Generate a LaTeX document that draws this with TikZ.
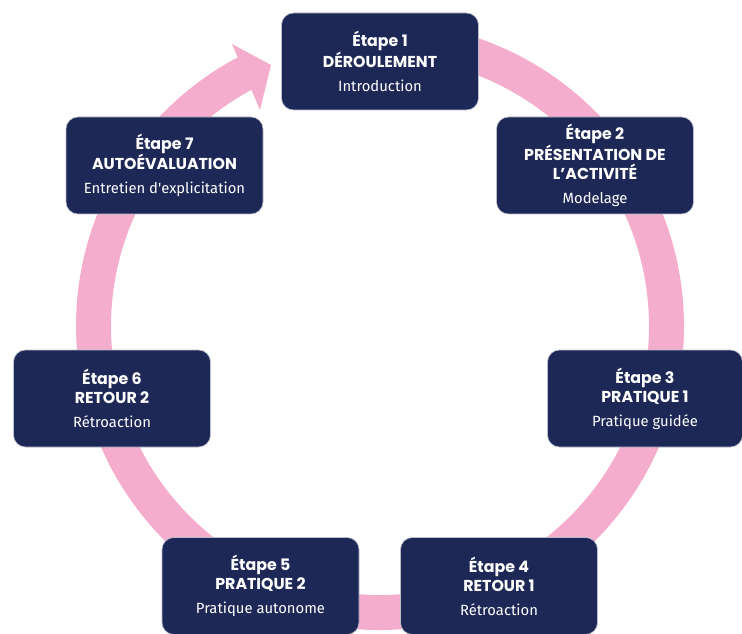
\documentclass[tikz,border=0pt]{standalone}
\usepackage{fontspec}
\setmainfont{Fira Sans}
\newfontfamily\titlefont{Poppins}
\definecolor{navy}{HTML}{1E2857}
\definecolor{ringpink}{HTML}{F5ADCE}
\definecolor{edgegray}{HTML}{B8BCCB}
\tikzset{
  stepbox/.style={fill=navy, draw=edgegray, line width=0.6pt, rounded corners=12pt,
    minimum width=197pt, minimum height=97pt, text=white, align=center, inner sep=0pt,
    font=\fontsize{14.8}{19}\selectfont},
  ring/.style={draw=ringpink, line width=35pt},
  head/.style={fill=ringpink},
}
\newcommand{\ttl}[1]{{\titlefont\bfseries\fontsize{15.8}{19}\selectfont #1}}
\begin{document}
\begin{tikzpicture}[x=1pt,y=1pt]
\useasboundingbox (0,0) rectangle (742,633);
\coordinate (c) at (380,307);
\coordinate (tip) at (271,568);
\coordinate (hu) at (232,589);
\coordinate (hl) at (260,523);
\draw[ring] ([shift={(95:286.5)}]c) arc[start angle=95, end angle=-242.5, radius=286.5];
\fill[head] (tip) -- (hu) -- (hl) -- cycle;

\node[stepbox] (s1) at (380,571.5) {\ttl{Étape 1}\\\ttl{DÉROULEMENT}\\[5pt]Introduction};
\node[stepbox] (s2) at (595,467.5) {\ttl{Étape 2}\\\ttl{PRÉSENTATION DE}\\\ttl{L’ACTIVITÉ}\\[5pt]Modelage};
\node[stepbox, minimum width=195pt] (s3) at (645,234.5) {\ttl{Étape 3}\\\ttl{PRATIQUE 1}\\[5pt]Pratique guidée};
\node[stepbox] (s4) at (499,47) {\ttl{Étape 4}\\\ttl{RETOUR 1}\\[5pt]Rétroaction};
\node[stepbox] (s5) at (260.5,47) {\ttl{Étape 5}\\\ttl{PRATIQUE 2}\\[5pt]Pratique autonome};
\node[stepbox] (s6) at (112,234.5) {\ttl{Étape 6}\\\ttl{RETOUR 2}\\[5pt]Rétroaction};
\node[stepbox] (s7) at (164.5,467.5) {\ttl{Étape 7}\\\ttl{AUTOÉVALUATION}\\[5pt]Entretien d\textquotesingle explicitation};
\end{tikzpicture}
\end{document}
